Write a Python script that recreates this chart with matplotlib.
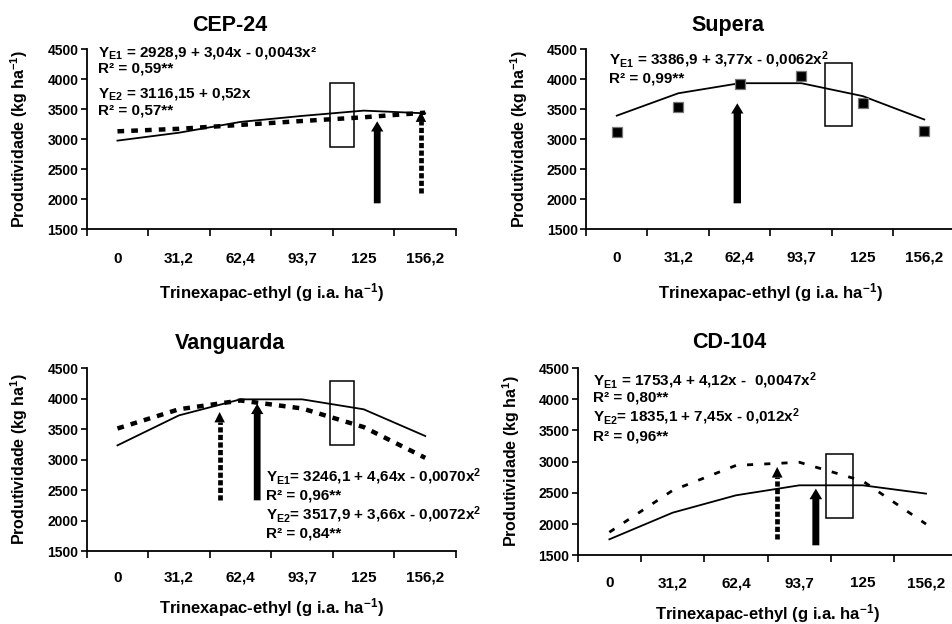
import numpy as np
import matplotlib
matplotlib.use("Agg")
import matplotlib.pyplot as plt
from matplotlib.patches import Rectangle

# ----------------------------
# Data
# ----------------------------
doses = ["0", "31,2", "62,4", "93,7", "125", "156,2"]

cep24_e1 = [2978, 3110, 3290, 3390, 3478, 3433]
cep24_e2 = [3133, 3175, 3240, 3305, 3367, 3444]

supera_e1 = [3394, 3767, 3935, 3935, 3720, 3330]
supera_obs = [3122, 3544, 3917, 4056, 3611, 3139]

vang_e1 = [3234, 3725, 3987, 3987, 3824, 3387]
vang_e2 = [3510, 3825, 3968, 3838, 3533, 3030]

cd104_e1 = [1756, 2183, 2461, 2621, 2621, 2488]
cd104_e2 = [1870, 2540, 2940, 2990, 2690, 2000]

# ----------------------------
# Style
# ----------------------------
plt.rcParams.update({
    "font.family": ["Liberation Sans", "DejaVu Sans"],
    "font.weight": "bold",
    "axes.labelweight": "bold",
    "mathtext.fontset": "custom",
    "mathtext.rm": "Liberation Sans:bold",
    "mathtext.it": "Liberation Sans:bold",
    "mathtext.bf": "Liberation Sans:bold",
    "mathtext.default": "rm",
})

W, H = 953, 624
fig = plt.figure(figsize=(W / 100, H / 100), dpi=100)


def px_axes(left, right, top, bottom):
    return fig.add_axes([left / W, 1 - bottom / H, (right - left) / W, (bottom - top) / H])


def solid_arrow(ax, x, y0, y1, shaft=0.11, head_w=0.2, head_l=170):
    ax.arrow(x, y0, 0, y1 - y0, width=shaft, head_width=head_w, head_length=head_l,
             length_includes_head=True, fc="k", ec="k", lw=0)


def dotted_arrow(ax, x, y0, y1, head_w=0.17, head_l=170):
    ax.plot([x, x], [y0, y1 - head_l + 10], color="k", lw=3.4,
            linestyle=(0, (1.1, 0.5)), dash_capstyle="butt")
    ax.arrow(x, y1 - head_l, 0, head_l, width=0.0, head_width=head_w, head_length=head_l,
             length_includes_head=True, fc="k", ec="k", lw=0)


def setup(ax, title, title_x, ylab, xlab_off, tick_pad, width_px):
    x = np.arange(len(doses))
    ax.set_xlim(-0.5, len(doses) - 0.5)
    ax.set_ylim(1500, 4500)
    ax.set_yticks(np.arange(1500, 4501, 500))
    ax.set_xticks(np.arange(-0.5, len(doses)), [])
    ax.set_xticks(x, doses, minor=True)
    ax.tick_params(axis="x", which="major", direction="out", length=5, width=1.2)
    ax.tick_params(axis="x", which="minor", length=0, pad=tick_pad, labelsize=11)
    ax.tick_params(axis="y", direction="out", length=4, width=1.2, labelsize=10, pad=2)
    for s in ["top", "right"]:
        ax.spines[s].set_visible(False)
    for s in ["left", "bottom"]:
        ax.spines[s].set_linewidth(1.3)
    ax.set_ylabel(ylab, fontsize=11.5)
    ax.yaxis.set_label_coords(-67 / width_px, 0.5)
    ax.yaxis.label.set_verticalalignment("center")
    ax.set_xlabel("Trinexapac-ethyl (g i.a. ha$^{-1}$)", fontsize=12)
    ax.xaxis.set_label_coords(0.5, -xlab_off)
    ax.xaxis.label.set_verticalalignment("center")
    ax.text(title_x, 1.135, title, transform=ax.transAxes, ha="center", va="center",
            fontsize=15.5, fontweight="bold")
    return x


def eq_lines(ax, x0, ys, lines, size=11):
    for y, s in zip(ys, lines):
        ax.text(x0, y, s, ha="left", va="center", fontsize=size, fontweight="bold")


ylab_a = "Produtividade (kg ha$^{-1}$)"
ylab_b = "Produtividade (kg ha$^{1}$)"

# ---- CEP-24 ----
ax1 = px_axes(86.7, 456, 49.3, 229.3)
x = setup(ax1, "CEP-24", 0.388, ylab_a, 63 / 180, 16, 369)
ax1.plot(x, cep24_e1, color="k", lw=1.3)
ax1.plot(x, cep24_e2, color="k", lw=3.2, linestyle=(0, (1.5, 1.6)), dash_capstyle="butt")
ax1.add_patch(Rectangle((3.45, 2867), 0.39, 3944 - 2867, fc="none", ec="k", lw=1.1))
solid_arrow(ax1, 4.22, 1933, 3300)
dotted_arrow(ax1, 4.93, 2100, 3460)
eq_lines(ax1, -0.31, [4433, 4172, 3750, 3472],
         ["Y$_{\\mathrm{E1}}$ = 2928,9 + 3,04x - 0,0043x²", "R² = 0,59**",
          "Y$_{\\mathrm{E2}}$ = 3116,15 + 0,52x", "R² = 0,57**"])

# ---- Supera ----
ax2 = px_axes(586, 955, 49.3, 229.3)
x = setup(ax2, "Supera", 0.385, ylab_a, 63 / 180, 15.5, 369)
ax2.plot(x, supera_e1, color="k", lw=1.3)
ax2.plot(x, supera_obs, linestyle="none", marker="s", ms=6.5, mfc="k", mec="#777777", mew=0.9)
ax2.add_patch(Rectangle((3.39, 3228), 0.43, 4278 - 3228, fc="none", ec="k", lw=1.1))
solid_arrow(ax2, 1.96, 1933, 3600, shaft=0.12, head_w=0.2)
eq_lines(ax2, -0.12, [4322, 4006],
         ["Y$_{\\mathrm{E1}}$ = 3386,9 + 3,77x - 0,0062x$^{2}$", "R² = 0,99**"])

# ---- Vanguarda ----
ax3 = px_axes(86.7, 456, 368, 551.3)
x = setup(ax3, "Vanguarda", 0.388, ylab_b, 56 / 183.3, 14, 369)
ax3.plot(x, vang_e1, color="k", lw=1.3)
ax3.plot(x, vang_e2, color="k", lw=3.2, linestyle=(0, (1.5, 1.6)), dash_capstyle="butt")
ax3.add_patch(Rectangle((3.45, 3234), 0.39, 4282 - 3234, fc="none", ec="k", lw=1.1))
dotted_arrow(ax3, 1.66, 2334, 3780)
solid_arrow(ax3, 2.27, 2334, 3916)
eq_lines(ax3, 2.42, [2716, 2416, 2100, 1789],
         ["Y$_{\\mathrm{E1}}$= 3246,1 + 4,64x - 0,0070x$^{2}$", "R² = 0,96**",
          "Y$_{\\mathrm{E2}}$= 3517,9 + 3,66x - 0,0072x$^{2}$", "R² = 0,84**"])

# ---- CD-104 ----
ax4 = px_axes(577.7, 957.7, 368, 555.3)
x = setup(ax4, "CD-104", 0.40, ylab_b, 58 / 187.3, 15, 380)
ax4.plot(x, cd104_e1, color="k", lw=1.3)
ax4.plot(x, cd104_e2, color="k", lw=2.0, linestyle=(0, (2.2, 4.0)), dash_capstyle="butt")
ax4.add_patch(Rectangle((3.42, 2103), 0.42, 3128 - 2103, fc="none", ec="k", lw=1.1))
dotted_arrow(ax4, 2.65, 1767, 2915)
solid_arrow(ax4, 3.26, 1660, 2568)
eq_lines(ax4, -0.26, [4302, 4035, 3715, 3395],
         ["Y$_{\\mathrm{E1}}$ = 1753,4 + 4,12x -  0,0047x$^{2}$", "R² = 0,80**",
          "Y$_{\\mathrm{E2}}$= 1835,1 + 7,45x - 0,012x$^{2}$", "R² = 0,96**"])

fig.savefig("out.png", dpi=100)
